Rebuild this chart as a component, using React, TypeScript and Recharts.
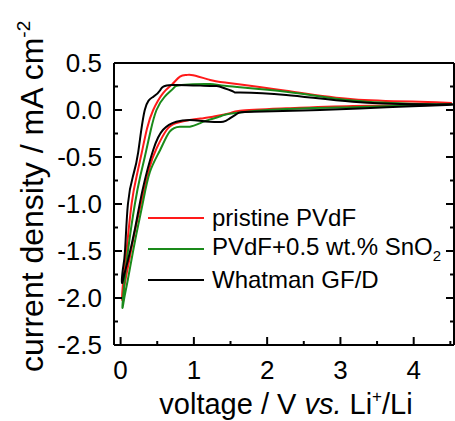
import React from 'react';
import { LineChart, Line, XAxis, YAxis, Legend } from 'recharts';

// cyclic voltammograms, each loop traced 4.5 V -> 0 V -> 4.5 V
const pristineV = [4.52, 4.08, 3.17, 2.26, 1.63, 1.49, 1.26, 1.13, 0.945, 0.76, 0.63, 0.49, 0.4, 0.3, 0.2, 0.1, 0.05, 0.02, 0.04, 0.08, 0.15, 0.22, 0.29, 0.36, 0.445, 0.58, 0.7, 0.81, 0.9, 0.99, 1.22, 1.45, 2.26, 3.17, 4.08, 4.52];
const pristineI = [0.065, 0.05, 0.043, 0.018, -0.007, -0.035, -0.071, -0.088, -0.106, -0.14, -0.21, -0.41, -0.6, -0.92, -1.27, -1.67, -1.88, -2.02, -1.78, -1.5, -1.0, -0.7, -0.45, -0.2, 0.0, 0.18, 0.27, 0.355, 0.372, 0.37, 0.32, 0.29, 0.205, 0.114, 0.088, 0.075];

const sno2V = [4.52, 4.08, 3.17, 2.26, 1.54, 1.35, 1.22, 1.08, 0.945, 0.81, 0.67, 0.54, 0.4, 0.3, 0.2, 0.1, 0.05, 0.025, 0.05, 0.1, 0.195, 0.27, 0.33, 0.41, 0.49, 0.6, 0.72, 0.83, 1.22, 1.45, 2.26, 3.17, 4.08, 4.52];
const sno2I = [0.06, 0.05, 0.03, 0.01, -0.035, -0.071, -0.1, -0.142, -0.177, -0.177, -0.23, -0.425, -0.66, -1.0, -1.38, -1.8, -2.0, -2.1, -1.85, -1.5, -1.0, -0.7, -0.5, -0.22, 0.0, 0.14, 0.23, 0.266, 0.277, 0.255, 0.195, 0.1, 0.064, 0.06];

const whatmanV = [4.52, 4.45, 3.63, 2.72, 1.81, 1.6, 1.49, 1.4, 1.22, 1.08, 0.945, 0.76, 0.58, 0.445, 0.3, 0.2, 0.1, 0.05, 0.02, 0.03, 0.06, 0.1, 0.17, 0.24, 0.33, 0.445, 0.54, 0.7, 1.22, 1.35, 1.54, 1.63, 2.26, 3.17, 4.08, 4.52];
const whatmanI = [0.06, 0.053, 0.029, 0.0, -0.018, -0.035, -0.089, -0.125, -0.125, -0.114, -0.106, -0.125, -0.21, -0.425, -0.85, -1.25, -1.6, -1.75, -1.84, -1.7, -1.5, -1.0, -0.7, -0.45, 0.0, 0.14, 0.21, 0.266, 0.255, 0.25, 0.195, 0.185, 0.16, 0.088, 0.06, 0.06];

const xTicks = [0, 0.5, 1, 1.5, 2, 2.5, 3, 3.5, 4, 4.5];
const yTicks = [-2.5, -2.25, -2, -1.75, -1.5, -1.25, -1, -0.75, -0.5, -0.25, 0, 0.25, 0.5];

const toPoints = (v: number[], i: number[]) => v.map((x, k) => ({ v: x, i: i[k] }));

const series = [
  { name: 'pristine PVdF', color: '#ff1a1a', data: toPoints(pristineV, pristineI) },
  { name: 'PVdF+0.5 wt.% SnO_2', color: '#1a8a1a', data: toPoints(sno2V, sno2I) },
  { name: 'Whatman GF/D', color: '#000000', data: toPoints(whatmanV, whatmanI) },
];

const FONT = '"Liberation Sans", Arial, sans-serif';

const BottomTick = (props: any) => {
  const { x, y, payload } = props;
  const major = Number.isInteger(payload.value);
  return (
    <g>
      <line x1={x} x2={x} y1={y} y2={y - (major ? 8 : 4)} stroke="#000" strokeWidth={2} />
      {major && (
        <text x={x} y={y + 34} textAnchor="middle" fontSize={26} fontFamily={FONT} fill="#000">
          {payload.value}
        </text>
      )}
    </g>
  );
};

const TopTick = (props: any) => {
  const { x, y, payload } = props;
  const major = Number.isInteger(payload.value);
  return <line x1={x} x2={x} y1={y} y2={y + (major ? 8 : 4)} stroke="#000" strokeWidth={2} />;
};

const LeftTick = (props: any) => {
  const { x, y, payload } = props;
  const major = Number.isInteger(payload.value * 2);
  return (
    <g>
      <line x1={x} x2={x + (major ? 8 : 4)} y1={y} y2={y} stroke="#000" strokeWidth={2} />
      {major && (
        <text x={x - 12} y={y + 9} textAnchor="end" fontSize={26} fontFamily={FONT} fill="#000">
          {payload.value.toFixed(1)}
        </text>
      )}
    </g>
  );
};

const RightTick = (props: any) => {
  const { x, y, payload } = props;
  const major = Number.isInteger(payload.value * 2);
  return <line x1={x} x2={x - (major ? 8 : 4)} y1={y} y2={y} stroke="#000" strokeWidth={2} />;
};

const YTitle = () => (
  <text transform="rotate(-90 43 372)" x={43} y={372} fontSize={32} fontFamily={FONT} fill="#000">
    current density / mA cm
    <tspan dy={-13} fontSize={19}>-2</tspan>
  </text>
);

const XTitle = () => (
  <text x={286} y={414} textAnchor="middle" fontSize={29} fontFamily={FONT} fill="#000">
    voltage / V <tspan fontStyle="italic">vs.</tspan> Li
    <tspan dy={-12} fontSize={17}>+</tspan>
    <tspan dy={12}>/Li</tspan>
  </text>
);

const renderLegend = () => (
  <div style={{ fontFamily: FONT, fontSize: 24, color: '#000' }}>
    {series.map((s) => {
      const [main, sub] = s.name.split('_');
      return (
        <div key={s.name} style={{ display: 'flex', alignItems: 'center', height: 31, whiteSpace: 'nowrap' }}>
          <svg width={56} height={4} style={{ display: 'block' }}>
            <line x1={0} x2={56} y1={2} y2={2} stroke={s.color} strokeWidth={2} />
          </svg>
          <span style={{ marginLeft: 8 }}>
            {main}
            {sub && <sub style={{ fontSize: 15 }}>{sub}</sub>}
          </span>
        </div>
      );
    })}
  </div>
);

export default function App() {
  return (
    <div style={{ position: 'absolute', left: 0, top: 0, background: '#fff' }}>
      <LineChart width={455} height={421} margin={{ top: 53, right: 0, bottom: 0, left: 0 }}>
        <XAxis
          xAxisId="b"
          type="number"
          dataKey="v"
          domain={[-0.09, 4.55]}
          allowDataOverflow
          ticks={xTicks}
          interval={0}
          tickSize={0}
          tickMargin={0}
          tickLine={false}
          tick={BottomTick}
          axisLine={{ stroke: '#000', strokeWidth: 2 }}
          height={76}
          label={{ content: XTitle }}
        />
        <XAxis
          xAxisId="t"
          orientation="top"
          type="number"
          domain={[-0.09, 4.55]}
          allowDataOverflow
          ticks={xTicks}
          interval={0}
          tickSize={0}
          tickMargin={0}
          tickLine={false}
          tick={TopTick}
          axisLine={{ stroke: '#000', strokeWidth: 2 }}
          height={10}
        />
        <YAxis
          yAxisId="l"
          type="number"
          domain={[-2.5, 0.5]}
          allowDataOverflow
          ticks={yTicks}
          interval={0}
          tickSize={0}
          tickMargin={0}
          tickLine={false}
          tick={LeftTick}
          axisLine={{ stroke: '#000', strokeWidth: 2 }}
          width={114}
          label={{ content: YTitle }}
        />
        <YAxis
          yAxisId="r"
          orientation="right"
          type="number"
          domain={[-2.5, 0.5]}
          allowDataOverflow
          ticks={yTicks}
          interval={0}
          tickSize={0}
          tickMargin={0}
          tickLine={false}
          tick={RightTick}
          axisLine={{ stroke: '#000', strokeWidth: 2 }}
          width={1}
        />
        {series.map((s) => (
          <Line
            key={s.name}
            xAxisId="b"
            yAxisId="l"
            data={s.data}
            dataKey="i"
            name={s.name}
            type="natural"
            stroke={s.color}
            strokeWidth={2}
            dot={false}
            isAnimationActive={false}
          />
        ))}
        <Legend
          layout="vertical"
          align="center"
          verticalAlign="middle"
          content={renderLegend}
          wrapperStyle={{ position: 'absolute', left: 148, top: 202, width: 300 }}
        />
      </LineChart>
    </div>
  );
}
